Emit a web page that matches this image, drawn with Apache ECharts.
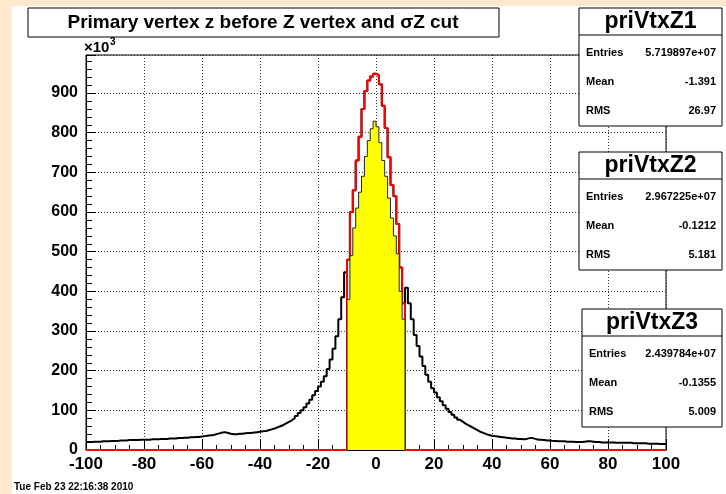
<!DOCTYPE html>
<html><head><meta charset="utf-8">
<script src="https://cdn.jsdelivr.net/npm/echarts@6/dist/echarts.min.js"></script>
<style>html,body{margin:0;padding:0;background:#fff}#c{width:726px;height:494px}</style>
</head><body><div id="c"></div><script>
// ---- data (values in units of 10^3 entries per 1-cm bin) ----
const xMin = -100, xMax = 100, binWidth = 1;
// priVtxZ1 tails: bins with left edge -100 .. -11
const z1Left = [20,20,21,21,21,22,22,22,23,23,
 23,24,24,24,25,25,25,25,26,26,
 26,26,27,27,27,28,28,28,29,29,
 29,30,30,31,31,32,32,33,33,34,
 35,36,37,38,40,42,44,45,43,41,
 40,40,41,41,42,43,43,44,45,46,
 47,48,50,52,54,57,60,63,67,71,
 75,80,86,93,100,108,117,127,138,149,
 160,172,186,204,228,255,287,330,385,448];
// priVtxZ1 tails: bins with left edge 10 .. 99
const z1Right = [409,370,330,290,262,236,212,190,172,156,
 145,133,123,113,104,96,89,82,76,71,
 66,62,58,54,50,46,43,40,38,36,
 35,34,33,32,31,30,29,29,28,28,
 27,28,30,30,28,26,26,25,24,24,
 23,23,22,22,22,21,21,21,20,20,
 20,21,22,22,21,20,20,19,19,19,
 19,19,18,18,18,18,18,18,17,17,
 17,17,17,16,16,16,16,15,15,15];
// priVtxZ2 (|z|<10): bins with left edge -10 .. 9
const z2Core = [480,600,655,730,790,860,905,932,942,949,945,922,868,812,738,668,640,570,460,370];
// priVtxZ3 (after sigmaZ cut): bins with left edge -10 .. 9
const z3Core = [380,490,560,610,650,690,740,780,810,829,815,775,730,690,635,585,540,495,400,330];
const cutLow = -10, cutHigh = 10;
const yMax = 996, xInterval = 20, yInterval = 100;
const titleText = 'Primary vertex z before Z vertex and \u03c3Z cut';
const statNames = ['priVtxZ1','priVtxZ2','priVtxZ3'];
const statEntries = ['5.719897e+07','2.967225e+07','2.439784e+07'];
const statMeans = ['-1.391','-0.1212','-0.1355'];
const statRms = ['26.97','5.181','5.009'];
const dateText = 'Tue Feb 23 22:16:38 2010';

// ---- build step outlines ----
function steps(vals, start){
  const pts = [];
  vals.forEach((v,i)=>{ const x0 = start + i*binWidth; pts.push([x0, v], [x0 + binWidth, v]); });
  return pts;
}
const nOut = (cutLow - xMin) / binWidth;
const z1All = z1Left.concat(z2Core, z1Right);
const z2All = new Array(nOut).fill(0).concat(z2Core, new Array(nOut).fill(0));
const blackData = steps(z1All, xMin);
const redData = steps(z2All, xMin);
const yellowData = [[cutLow, 0]].concat(steps(z3Core, cutLow), [[cutHigh, 0]]);

const FONT = '"Liberation Sans", Arial, sans-serif';
function statBox(i, x, y, w){
  const h = 118;
  return {type:'group', x:x, y:y, z:100, children:[
    {type:'rect', z:100, shape:{x:0,y:0,width:w,height:h}, style:{fill:'#fff', stroke:'#000', lineWidth:1}},
    {type:'line', z:101, shape:{x1:0,y1:27,x2:w,y2:27}, style:{stroke:'#000', lineWidth:1}},
    {type:'text', z:101, x:w/2, y:14, style:{text:statNames[i], font:'bold 23px '+FONT, textAlign:'center', textVerticalAlign:'middle', fill:'#000'}},
    {type:'text', z:101, x:7, y:45, style:{text:'Entries', font:'bold 11px '+FONT, textAlign:'left', textVerticalAlign:'middle', fill:'#000'}},
    {type:'text', z:101, x:w-6, y:45, style:{text:statEntries[i], font:'bold 11px '+FONT, textAlign:'right', textVerticalAlign:'middle', fill:'#000'}},
    {type:'text', z:101, x:7, y:74, style:{text:'Mean', font:'bold 11px '+FONT, textAlign:'left', textVerticalAlign:'middle', fill:'#000'}},
    {type:'text', z:101, x:w-6, y:74, style:{text:statMeans[i], font:'bold 11px '+FONT, textAlign:'right', textVerticalAlign:'middle', fill:'#000'}},
    {type:'text', z:101, x:7, y:103, style:{text:'RMS', font:'bold 11px '+FONT, textAlign:'left', textVerticalAlign:'middle', fill:'#000'}},
    {type:'text', z:101, x:w-6, y:103, style:{text:statRms[i], font:'bold 11px '+FONT, textAlign:'right', textVerticalAlign:'middle', fill:'#000'}}
  ]};
}

const chart = echarts.init(document.getElementById('c'), null, {renderer:'canvas'});
chart.setOption({
  animation:false,
  backgroundColor:'#fff',
  grid:{left:86, right:60, top:55, bottom:44, show:true, borderColor:'#000', borderWidth:1, backgroundColor:'#fff', containLabel:false},
  xAxis:{type:'value', min:xMin, max:xMax, interval:xInterval,
    axisLine:{show:true, onZero:false, lineStyle:{color:'#000', width:1}},
    axisTick:{show:true, inside:true, length:11, lineStyle:{color:'#000'}},
    minorTick:{show:true, splitNumber:4, length:5, lineStyle:{color:'#000'}},
    splitLine:{show:true, lineStyle:{type:[1,2], color:'#333', width:1}},
    axisLabel:{color:'#000', fontFamily:FONT, fontWeight:'bold', fontSize:17, margin:6}},
  yAxis:{type:'value', min:0, max:yMax, interval:yInterval,
    axisLine:{show:true, onZero:false, lineStyle:{color:'#000', width:1}},
    axisTick:{show:true, inside:true, length:10, lineStyle:{color:'#000'}},
    minorTick:{show:true, splitNumber:5, length:6, lineStyle:{color:'#000'}},
    splitLine:{show:true, lineStyle:{type:[1,2], color:'#333', width:1}},
    axisLabel:{color:'#000', fontFamily:FONT, fontWeight:'bold', fontSize:16, margin:8,
      formatter:v => (v % 100 === 0 ? String(v) : '')}},
  series:[
    {type:'line', data:blackData, symbol:'none', silent:true, z:3, lineStyle:{color:'#000', width:2}},
    {type:'line', data:redData, symbol:'none', silent:true, clip:false, z:4, lineStyle:{color:'#ff0000', width:2}},
    {type:'line', data:yellowData, symbol:'none', silent:true, z:5, lineStyle:{color:'#222', width:1}, areaStyle:{color:'#ffff00', opacity:1}}
  ],
  graphic:[
    {type:'rect', z:-1, shape:{x:0,y:0,width:12,height:494}, style:{fill:'#ffe8cc'}},
    {type:'rect', z:-1, shape:{x:0,y:0,width:726,height:6}, style:{fill:'#ffe8cc'}},
    {type:'rect', z:100, shape:{x:28,y:8,width:471,height:29}, style:{fill:'#fff', stroke:'#000', lineWidth:1}},
    {type:'text', z:101, x:263, y:23, style:{text:titleText, font:'bold 19px '+FONT, textAlign:'center', textVerticalAlign:'middle', fill:'#000'}},
    {type:'text', z:101, x:84, y:48, style:{text:'\u00d710', font:'bold 15px '+FONT, textAlign:'left', textVerticalAlign:'middle', fill:'#000'}},
    {type:'text', z:101, x:110, y:42, style:{text:'3', font:'bold 10px '+FONT, textAlign:'left', textVerticalAlign:'middle', fill:'#000'}},
    statBox(0, 579, 8, 143),
    statBox(1, 579, 152, 143),
    statBox(2, 582, 309, 140),
    {type:'text', z:101, x:14, y:487, style:{text:dateText, font:'bold 10px '+FONT, textAlign:'left', textVerticalAlign:'middle', fill:'#000'}}
  ]
});
</script></body></html>
